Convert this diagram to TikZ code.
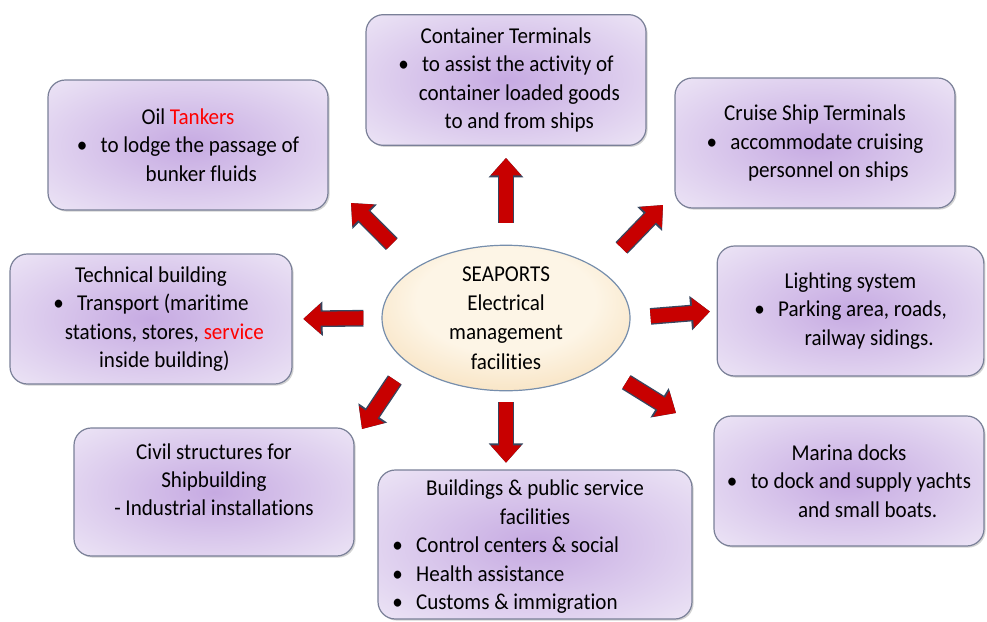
\documentclass[tikz,border=0pt]{standalone}
\usepackage{fontspec}
\setmainfont{Carlito}[FakeStretch=0.93,Ligatures=NoCommon]
\usepackage{xcolor}
\usepackage{tikz}
\usetikzlibrary{arrows.meta,shapes.geometric,shadows}
\definecolor{boxmid}{RGB}{198,170,226}
\definecolor{boxrim}{RGB}{241,236,248}
\definecolor{boxedge}{RGB}{122,128,152}
\definecolor{hubmid}{RGB}{253,245,230}
\definecolor{hubrim}{RGB}{242,205,150}
\definecolor{hubedge}{RGB}{118,142,172}
\definecolor{arrowred}{RGB}{200,0,0}
\definecolor{arrowedge}{RGB}{55,70,95}
\pgfdeclareradialshading{boxglow}{\pgfpoint{0bp}{0bp}}{color(0bp)=(boxmid); color(40bp)=(boxrim); color(72bp)=(boxrim)}
\pgfdeclareradialshading{hubglow}{\pgfpoint{0bp}{8bp}}{color(0bp)=(hubmid); color(18bp)=(hubmid); color(48bp)=(hubrim); color(72bp)=(hubrim)}

\begin{document}
\begin{tikzpicture}[x=0.75pt,y=-0.75pt,
  seabox/.style={rounded corners=13pt, draw=boxedge, line width=0.9pt, shading=boxglow,
    drop shadow={shadow xshift=1.2pt,shadow yshift=-1.2pt,opacity=0.35},
    align=center, inner sep=0pt, font=\fontsize{17}{21.3}\selectfont},
  seahub/.style={ellipse, draw=hubedge, line width=0.9pt, shading=hubglow,
    align=center, inner sep=0pt, font=\fontsize{17}{22}\selectfont},
  seaarrow/.style={draw=arrowred, line width=10.5pt, -{Triangle[width=22pt,length=13pt]},
    preaction={draw=arrowedge, line width=12.5pt, -{Triangle[width=25pt,length=14.5pt]}}}]
\useasboundingbox (0,0) rectangle (987,621);
% centre ellipse
\node[seahub, minimum width=186pt, minimum height=106.5pt] (hub) at (506,318)
  {SEAPORTS\\Electrical\\management\\facilities};
% the eight facility boxes
\node[seabox, minimum width=210pt, minimum height=97.5pt] (oil) at (188,145)
  {Oil \textcolor{red}{Tankers}\\\textbullet\hspace{10pt}to lodge the passage of\\\hspace*{20pt}bunker fluids};
\node[seabox, minimum width=210pt, minimum height=98pt] (contr) at (506,80)
  {Container Terminals\\\textbullet\hspace{10pt}to assist the activity of\\\hspace*{20pt}container loaded goods\\\hspace*{20pt}to and from ships};
\node[seabox, minimum width=210pt, minimum height=97.5pt] (cruise) at (815,143)
  {Cruise Ship Terminals\\\textbullet\hspace{10pt}accommodate cruising\\\hspace*{20pt}personnel on ships};
\node[seabox, minimum width=211.5pt, minimum height=97.5pt] (tech) at (151,319)
  {Technical building\\\textbullet\hspace{10pt}Transport (maritime\\\hspace*{20pt}stations, stores, \textcolor{red}{service}\\\hspace*{20pt}inside building)};
\node[seabox, minimum width=200pt, minimum height=97.5pt] (light) at (850.5,311)
  {Lighting system\\\textbullet\hspace{10pt}Parking area, roads,\\\hspace*{28pt}railway sidings.};
\node[seabox, minimum width=210pt, minimum height=96pt] (civil) at (214,492)
  {Civil structures for\\Shipbuilding\\- Industrial installations\\[-9pt]\strut};
\node[seabox, minimum width=235.5pt, minimum height=111.75pt] (bldg) at (535,544.5)
  {\\[-6pt]Buildings \& public service\\facilities\\
   \makebox[214pt][l]{\textbullet\hspace{10pt}Control centers \& social}\\
   \makebox[214pt][l]{\textbullet\hspace{10pt}Health assistance}\\
   \makebox[214pt][l]{\textbullet\hspace{10pt}Customs \& immigration}};
\node[seabox, minimum width=202.5pt, minimum height=97.5pt] (marina) at (849,481)
  {Marina docks\\\textbullet\hspace{10pt}to dock and supply yachts\\\hspace*{28pt}and small boats.};
% free ends of the slanted arrows
\coordinate (oiltip) at (351,203);
\coordinate (cruisetip) at (663,205);
\coordinate (civiltip) at (362,429);
\coordinate (marinatip) at (676,413);
% block arrows
\draw[seaarrow, shorten <=25pt] (hub.151) -- (oiltip);
\draw[seaarrow, shorten <=16.5pt, shorten >=9pt] (hub.north) -- (contr.south);
\draw[seaarrow, shorten <=23pt] (hub.27) -- (cruisetip);
\draw[seaarrow, shorten <=13.5pt, shorten >=8pt] (hub.west) -- (tech.east);
\draw[seaarrow, shorten <=15pt, shorten >=5pt] (hub.east) -- (light.west);
\draw[seaarrow, shorten <=16pt] (hub.204) -- (civiltip);
\draw[seaarrow, shorten <=8pt, shorten >=5pt] (hub.south) -- (hub.south |- bldg.north);
\draw[seaarrow, shorten <=23pt] (hub.-27) -- (marinatip);
\end{tikzpicture}
\end{document}
